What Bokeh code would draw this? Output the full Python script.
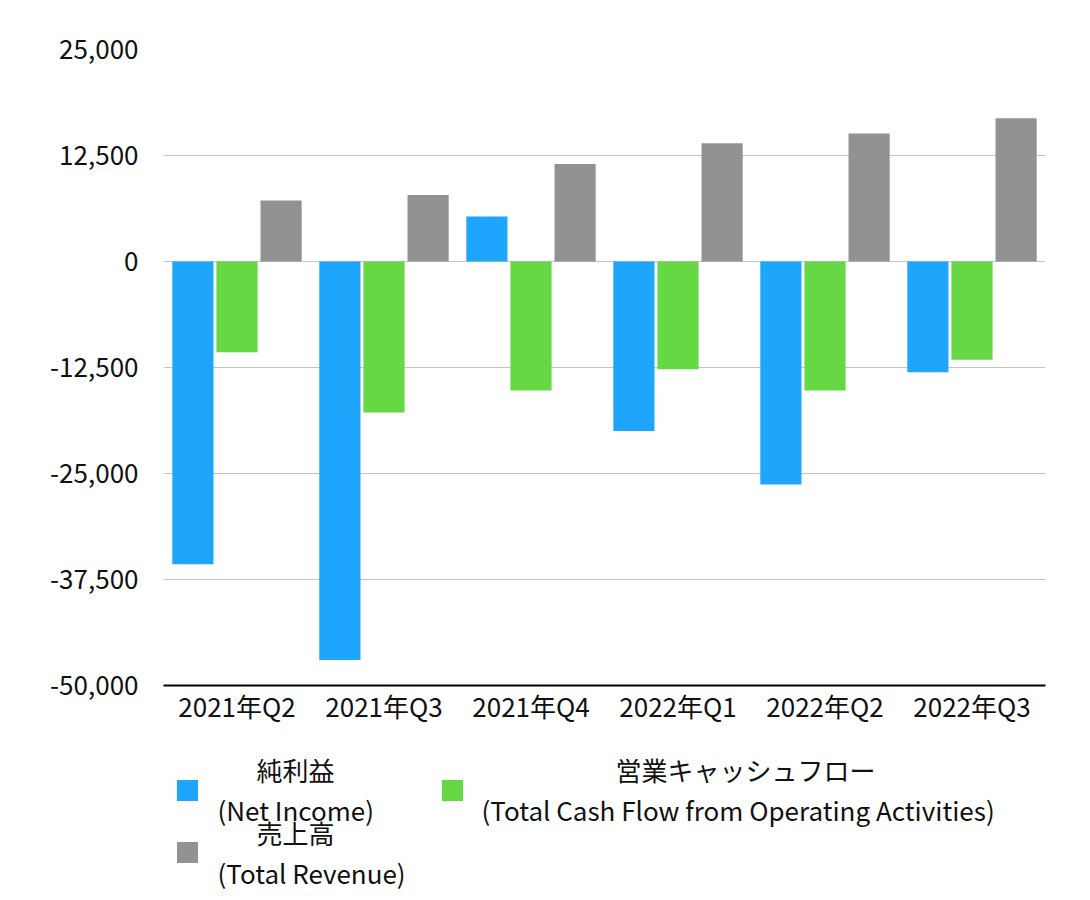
from bokeh.plotting import figure
from bokeh.models import (FactorRange, Range1d, FixedTicker, NumeralTickFormatter,
                          ColumnDataSource)
from bokeh.transform import dodge
from bokeh.layouts import column
from bokeh.core.properties import value
from bokeh.embed import file_html
from bokeh.resources import INLINE

quarters = ["2021年Q2", "2021年Q3", "2021年Q4", "2022年Q1", "2022年Q2", "2022年Q3"]
net_income = [-35700, -47000, 5300, -20000, -26300, -13050]
op_cash_flow = [-10700, -17800, -15200, -12700, -15200, -11600]
revenue = [7200, 7850, 11500, 13950, 15100, 16900]
y_ticks = [-50000, -37500, -25000, -12500, 0, 12500, 25000]

series_names = [("純利益", "(Net Income)"),
                ("営業キャッシュフロー", "(Total Cash Flow from Operating Activities)"),
                ("売上高", "(Total Revenue)")]
colors = ["#1EA5FC", "#65D844", "#929292"]

FONT = "Noto Sans CJK JP"
FS = "26px"
W = 1080
L, R = 163, 35

src = ColumnDataSource(dict(q=quarters, ni=net_income, cf=op_cash_flow, rev=revenue))

p = figure(x_range=FactorRange(*quarters), y_range=Range1d(-50000, 25000),
           width=W, height=740, output_backend="svg", toolbar_location=None,
           min_border_left=L, min_border_right=R, min_border_top=49,
           min_border_bottom=55)
p.outline_line_color = None
p.background_fill_color = "white"
p.border_fill_color = "white"

for key, off, col in zip(["ni", "cf", "rev"], [-0.30, 0.0, 0.30], colors):
    p.vbar(x=dodge("q", off, range=p.x_range), top=key, bottom=0, width=0.28,
           source=src, fill_color=col, line_color=None)

p.xgrid.grid_line_color = None
p.ygrid.grid_line_color = "#C4C4C4"
p.ygrid.grid_line_width = 1

p.yaxis.ticker = FixedTicker(ticks=y_ticks)
p.yaxis.formatter = NumeralTickFormatter(format="0,0")
p.yaxis.axis_line_color = None
p.yaxis.major_tick_line_color = None
p.yaxis.minor_tick_line_color = None
p.yaxis.major_label_standoff = 19
p.yaxis.major_label_text_font = FONT
p.yaxis.major_label_text_font_size = FS
p.yaxis.major_label_text_color = "#111111"

p.xaxis.axis_line_color = "black"
p.xaxis.axis_line_width = 2
p.xaxis.major_tick_line_color = None
p.xaxis.minor_tick_line_color = None
p.xaxis.major_label_standoff = -5
p.xaxis.major_label_text_font = FONT
p.xaxis.major_label_text_font_size = FS
p.xaxis.major_label_text_color = "#111111"

# Legend drawn in a separate figure whose data coordinates equal page pixels
leg = figure(width=W, height=150, x_range=Range1d(L, W - R), y_range=Range1d(890, 740),
             output_backend="svg", toolbar_location=None,
             min_border_left=L, min_border_right=R,
             min_border_top=0, min_border_bottom=0)
leg.axis.visible = False
leg.grid.visible = False
leg.outline_line_color = None
leg.background_fill_color = "white"
leg.border_fill_color = "white"

sq_x = [187, 452, 187]
sq_y = [790, 790, 852]
l1_x = [295, 745, 295]
l1_y = [769, 769, 832]
l2_x = [217, 481, 217]
l2_y = [809, 809, 872]

leg.rect(x=sq_x, y=sq_y, width=21, height=21, fill_color=colors, line_color=None)
leg.text(x=l1_x, y=l1_y, text=[n[0] for n in series_names], text_align="center",
         text_baseline="middle", text_font=value(FONT), text_font_size=FS,
         text_color="#111111")
leg.text(x=l2_x, y=l2_y, text=[n[1] for n in series_names], text_align="left",
         text_baseline="middle", text_font=value(FONT), text_font_size=FS,
         text_color="#111111")

layout = column(p, leg, spacing=0)
open("out.html", "w").write(file_html(layout, INLINE))
